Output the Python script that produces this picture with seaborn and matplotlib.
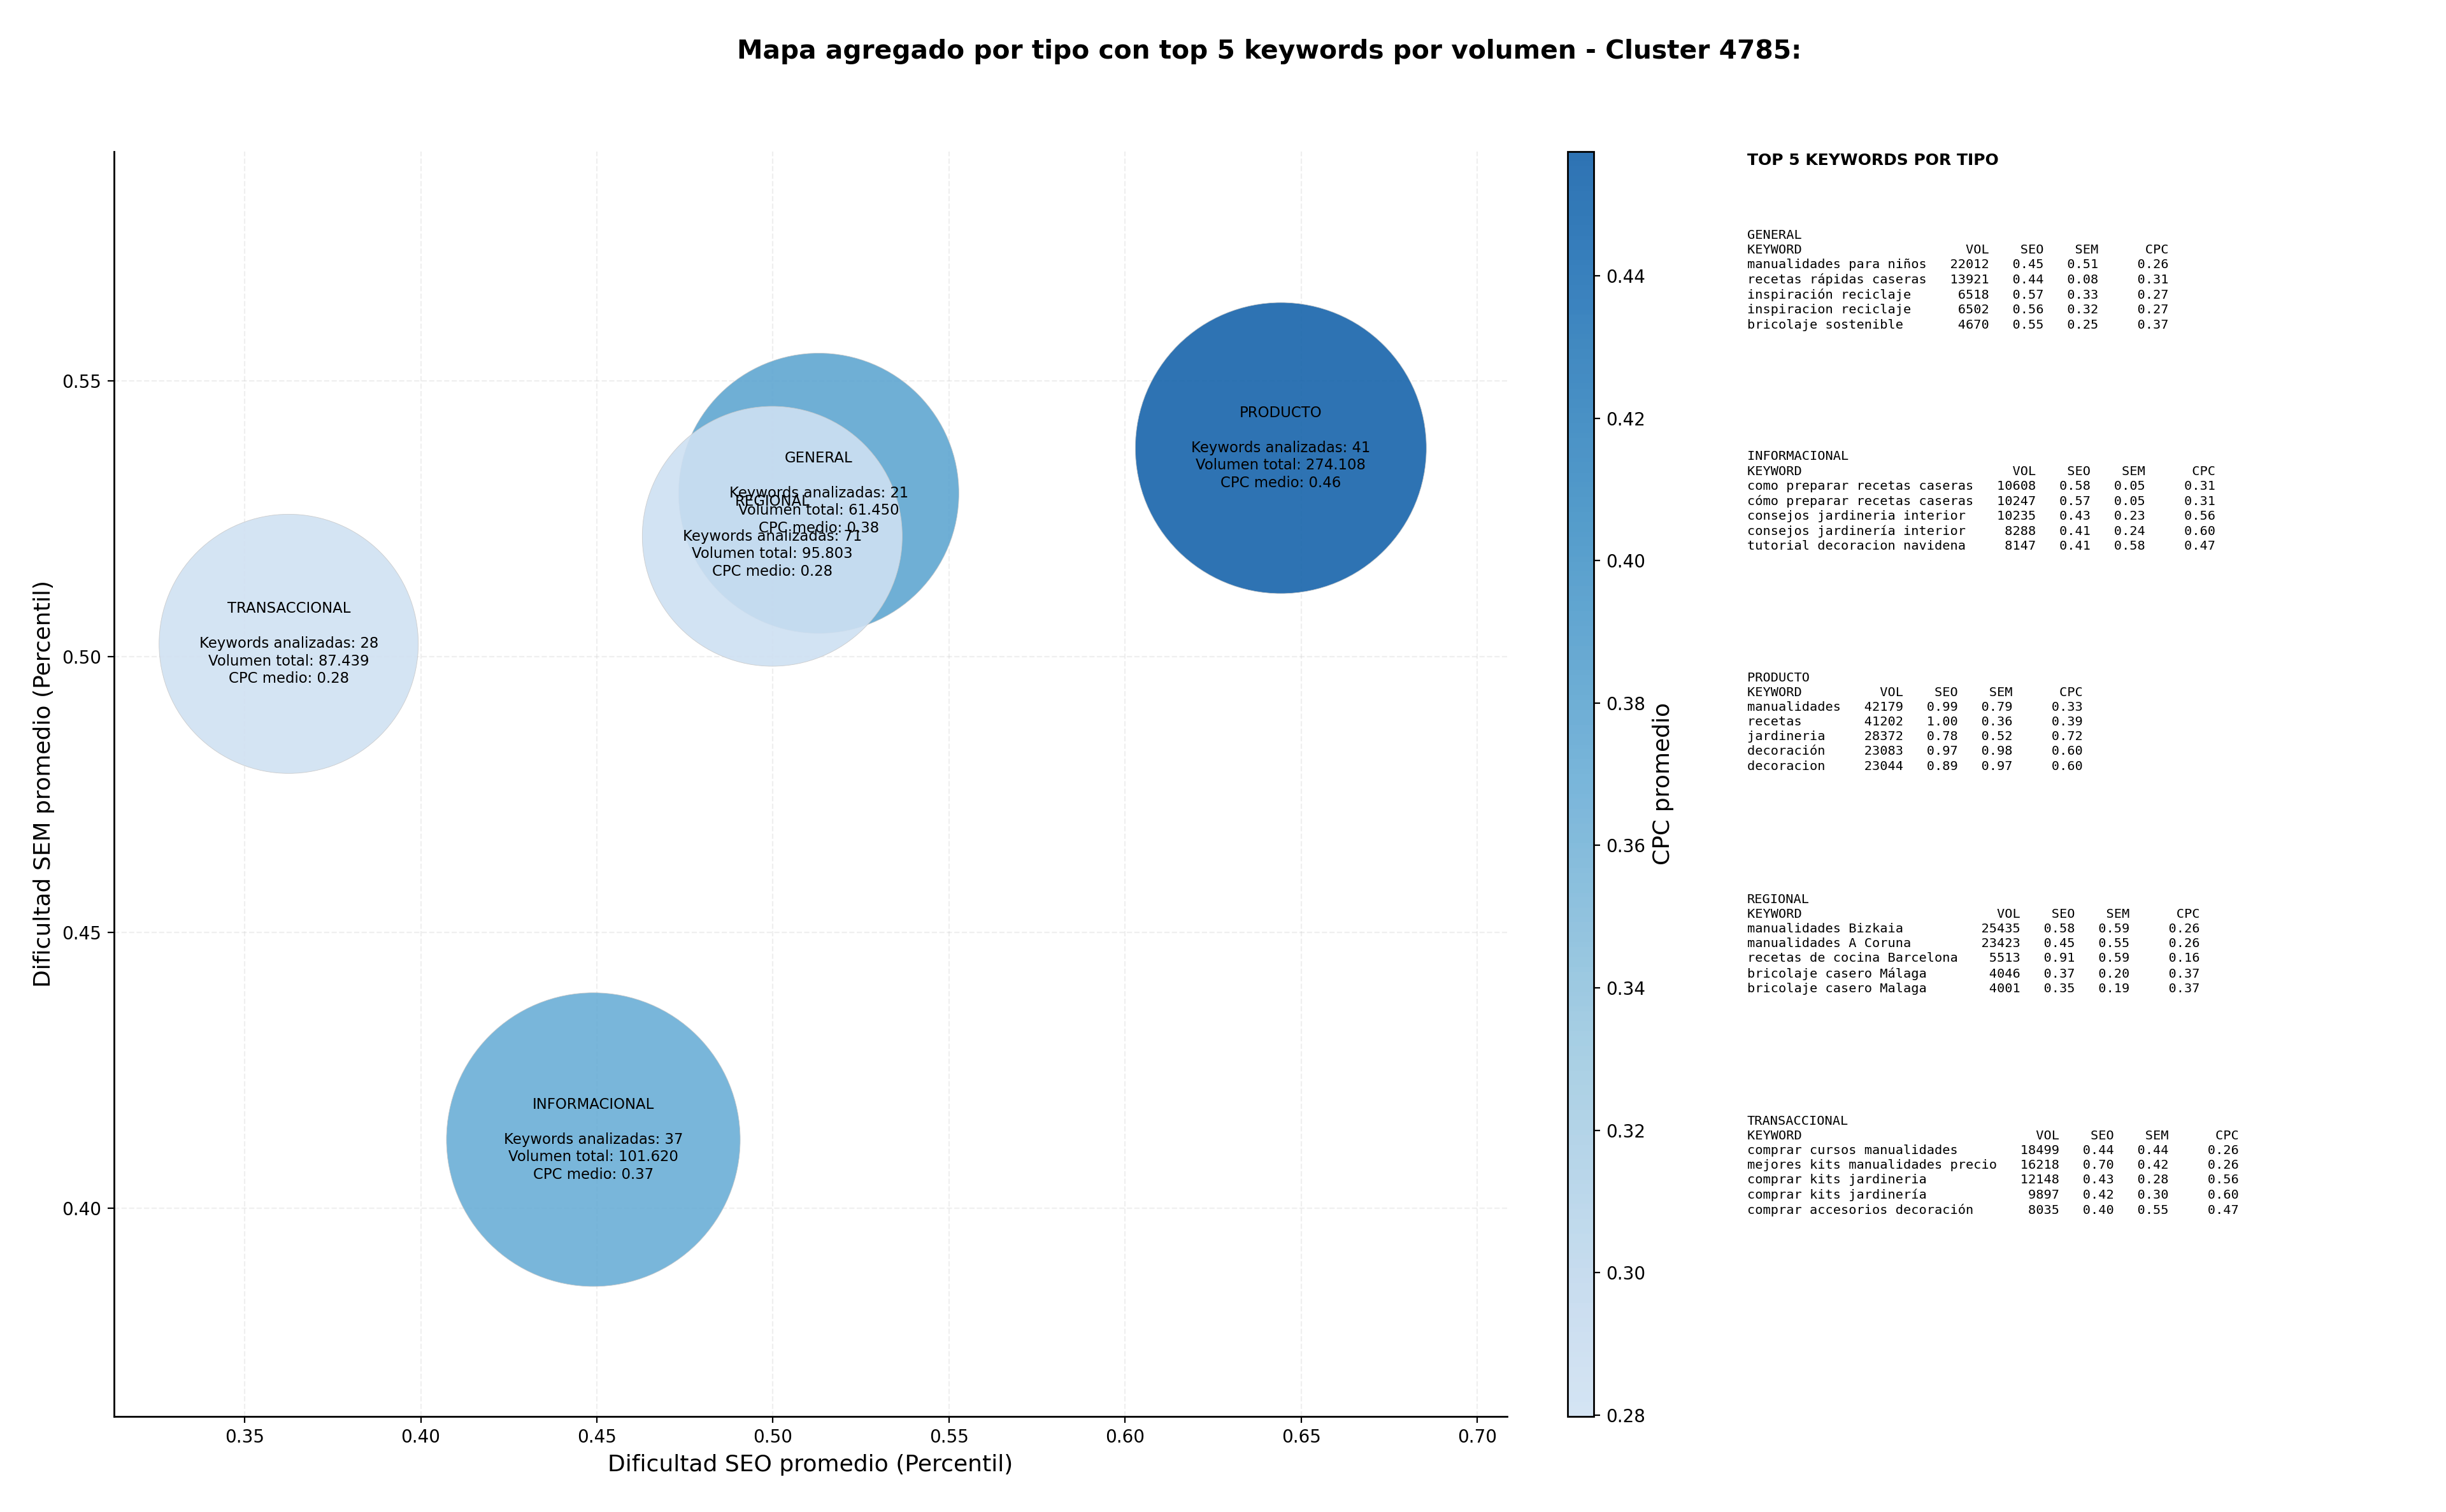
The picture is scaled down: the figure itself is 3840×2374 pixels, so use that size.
import numpy as np
import pandas as pd
import matplotlib
matplotlib.use("Agg")
import matplotlib.pyplot as plt
from matplotlib.colors import ListedColormap, Normalize
from matplotlib.cm import ScalarMappable
import seaborn as sns

# Aggregated data per keyword type
tipos = ["GENERAL", "INFORMACIONAL", "PRODUCTO", "REGIONAL", "TRANSACCIONAL"]
seo_medio = [0.513, 0.449, 0.6442, 0.4998, 0.3625]
sem_medio = [0.5296, 0.4124, 0.5378, 0.5218, 0.5023]
cpc_medio = [0.38, 0.37, 0.4575, 0.282, 0.2798]
n_keywords = [21, 37, 41, 71, 28]
vol_total = [61450, 101620, 274108, 95803, 87439]
bubble_area = [25090, 27560, 27060, 21580, 21460]

# Top 5 keywords per type: keyword, volume, seo, sem, cpc
top_general = [
    ("manualidades para niños", 22012, 0.45, 0.51, 0.26),
    ("recetas rápidas caseras", 13921, 0.44, 0.08, 0.31),
    ("inspiración reciclaje", 6518, 0.57, 0.33, 0.27),
    ("inspiracion reciclaje", 6502, 0.56, 0.32, 0.27),
    ("bricolaje sostenible", 4670, 0.55, 0.25, 0.37),
]
top_informacional = [
    ("como preparar recetas caseras", 10608, 0.58, 0.05, 0.31),
    ("cómo preparar recetas caseras", 10247, 0.57, 0.05, 0.31),
    ("consejos jardineria interior", 10235, 0.43, 0.23, 0.56),
    ("consejos jardinería interior", 8288, 0.41, 0.24, 0.60),
    ("tutorial decoracion navidena", 8147, 0.41, 0.58, 0.47),
]
top_producto = [
    ("manualidades", 42179, 0.99, 0.79, 0.33),
    ("recetas", 41202, 1.00, 0.36, 0.39),
    ("jardineria", 28372, 0.78, 0.52, 0.72),
    ("decoración", 23083, 0.97, 0.98, 0.60),
    ("decoracion", 23044, 0.89, 0.97, 0.60),
]
top_regional = [
    ("manualidades Bizkaia", 25435, 0.58, 0.59, 0.26),
    ("manualidades A Coruna", 23423, 0.45, 0.55, 0.26),
    ("recetas de cocina Barcelona", 5513, 0.91, 0.59, 0.16),
    ("bricolaje casero Málaga", 4046, 0.37, 0.20, 0.37),
    ("bricolaje casero Malaga", 4001, 0.35, 0.19, 0.37),
]
top_transaccional = [
    ("comprar cursos manualidades", 18499, 0.44, 0.44, 0.26),
    ("mejores kits manualidades precio", 16218, 0.70, 0.42, 0.26),
    ("comprar kits jardineria", 12148, 0.43, 0.28, 0.56),
    ("comprar kits jardinería", 9897, 0.42, 0.30, 0.60),
    ("comprar accesorios decoración", 8035, 0.40, 0.55, 0.47),
]
top_por_tipo = [top_general, top_informacional, top_producto, top_regional, top_transaccional]

df = pd.DataFrame({
    "tipo": tipos,
    "seo": seo_medio,
    "sem": sem_medio,
    "cpc": cpc_medio,
    "n": n_keywords,
    "vol": vol_total,
    "area": bubble_area,
})

sns.set_style("ticks")
plt.rcParams.update({
    "axes.edgecolor": "black",
    "axes.linewidth": 1.0,
    "text.color": "black",
    "axes.labelcolor": "black",
    "xtick.color": "black",
    "ytick.color": "black",
})

# Blues colormap, trimmed to its middle range
blues = sns.color_palette("Blues", as_cmap=True)
cmap = ListedColormap(blues(np.linspace(0.2, 0.8, 256)))
norm = Normalize(vmin=min(cpc_medio), vmax=max(cpc_medio))

fig = plt.figure(figsize=(19.2, 11.87), dpi=200)
ax = fig.add_axes([0.0466, 0.0632, 0.5695, 0.8367])
cax = fig.add_axes([0.641, 0.0632, 0.0105, 0.8367])

sns.scatterplot(data=df, x="seo", y="sem", hue="cpc", palette=cmap, hue_norm=norm,
                size="area", sizes=(min(bubble_area), max(bubble_area)),
                size_norm=(min(bubble_area), max(bubble_area)),
                alpha=0.9, edgecolor="#c8c8c8", linewidth=0.3, legend=False, ax=ax)

for _, row in df.iterrows():
    vol_txt = f"{row['vol']:,}".replace(",", ".")
    label = (f"{row['tipo']}\n\nKeywords analizadas: {row['n']}\n"
             f"Volumen total: {vol_txt}\nCPC medio: {row['cpc']:.2f}")
    ax.text(row["seo"], row["sem"], label, ha="center", va="center",
            fontsize=8.2, linespacing=1.25)

ax.set_xlim(0.3129, 0.7084)
ax.set_ylim(0.3622, 0.5916)
ax.set_xticks([0.35, 0.40, 0.45, 0.50, 0.55, 0.60, 0.65, 0.70])
ax.set_yticks([0.40, 0.45, 0.50, 0.55])
ax.tick_params(labelsize=10)
ax.set_xlabel("Dificultad SEO promedio (Percentil)", fontsize=13)
ax.set_ylabel("Dificultad SEM promedio (Percentil)", fontsize=13)
ax.grid(True, linestyle="--", alpha=0.3)
sns.despine(ax=ax)

sm = ScalarMappable(norm=norm, cmap=cmap)
cb = fig.colorbar(sm, cax=cax, alpha=0.9)
cb.set_label("CPC promedio", fontsize=13)
cb.ax.tick_params(labelsize=10)

fig.text(0.519, 0.966, "Mapa agregado por tipo con top 5 keywords por volumen - Cluster 4785:",
         ha="center", va="center", fontsize=14.7, fontweight="bold")

# Top keywords side panel
fig.text(0.7143, 0.899, "TOP 5 KEYWORDS POR TIPO", ha="left", va="top",
         fontsize=9, fontweight="bold")
for i, (tipo, rows) in enumerate(zip(tipos, top_por_tipo)):
    w = max(len(r[0]) for r in rows)
    lines = [tipo, f"{'KEYWORD':<{w}}{'VOL':>8}{'SEO':>7}{'SEM':>7}{'CPC':>9}"]
    for kw, vol, seo, sem, cpc in rows:
        lines.append(f"{kw:<{w}}{vol:>8}{seo:>7.2f}{sem:>7.2f}{cpc:>9.2f}")
    fig.text(0.7143, 0.8485 - i * 0.1465, "\n".join(lines), ha="left", va="top",
             fontsize=7.3, linespacing=1.27, family="DejaVu Sans Mono")

fig.savefig("out.png", dpi=200)
